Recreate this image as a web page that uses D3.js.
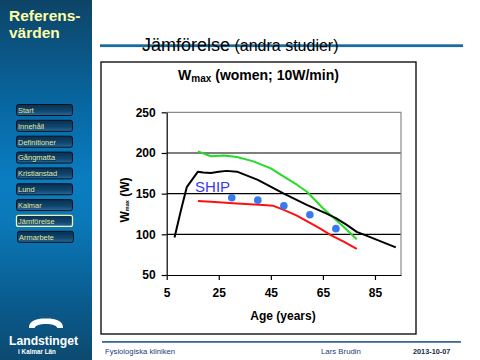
<!DOCTYPE html>
<html><head><meta charset="utf-8">
<script src="https://cdn.jsdelivr.net/npm/d3@7"></script>
<style>
html,body{margin:0;padding:0;background:#fff;}
svg{display:block;font-family:"Liberation Sans",Arial,sans-serif;}
</style></head>
<body>
<svg id="c" width="480" height="360"></svg>
<script>
// ---- data ----
const navItems = ["Start","Innehåll","Definitioner","Gångmatta","Kristianstad","Lund","Kalmar","Jämförelse","Armarbete"];
const blackAge = [8,10.5,12.7,17,19,22,25,28,32,40,50,59,66,70,74,78,80.5,93];
const blackW   = [96,130,158,177,176,175.5,177,178,177,167,150,136,126,120,112,103,100,84];
const greenAge = [17,22,27,32,38,45,50,55,59,65,72,78];
const greenW   = [202,196,197,195,190,181,171,161,152,132,112,94];
const redAge   = [17,22,32,42,46,50,55,59,64,68,73,78];
const redW     = [141,140,138,136,135,130,123,116,107,99,91,82];
const shipAge  = [30,40,50,60,70];
const shipW    = [145,142,135,124,107];
const xTicks   = [5,25,45,65,85];
const yTicks   = [50,100,150,200,250];

const svg = d3.select("#c");
const defs = svg.append("defs");
const g1 = defs.append("linearGradient").attr("id","side").attr("x1",0).attr("y1",0).attr("x2",0).attr("y2",1);
[[0,"#0d4467"],[0.3,"#0868a3"],[0.5,"#0a7dc1"],[0.62,"#0a78b8"],[0.85,"#0a5a8c"],[1,"#0c4a70"]].forEach(s=>g1.append("stop").attr("offset",s[0]).attr("stop-color",s[1]));
const g2 = defs.append("linearGradient").attr("id","btn").attr("x1",0).attr("y1",0).attr("x2",0).attr("y2",1);
[[0,"#0a2f4e"],[0.6,"#0f4770"],[1,"#2a6a98"]].forEach(s=>g2.append("stop").attr("offset",s[0]).attr("stop-color",s[1]));

// sidebar
svg.append("rect").attr("x",0).attr("y",0).attr("width",92).attr("height",360).attr("fill","url(#side)");
svg.append("text").attr("x",9).attr("y",21).attr("fill","#ffffa6").attr("font-weight","bold").attr("font-size",15.5).text("Referens-");
svg.append("text").attr("x",9).attr("y",38).attr("fill","#ffffa6").attr("font-weight","bold").attr("font-size",15.5).text("värden");

navItems.forEach((t,i)=>{
  const y = 104.5 + i*15.85;
  const x = i===8 ? 17.5 : 16.5;
  svg.append("rect").attr("x",x).attr("y",y).attr("width",56).attr("height",11).attr("rx",2)
    .attr("fill","url(#btn)").attr("stroke", i===7?"#f4f0a8":"#06121e").attr("stroke-width", i===7?1.3:1);
  svg.append("text").attr("x",x+1.5).attr("y",y+8.3).attr("font-size",7.5).attr("fill","#000").attr("opacity",0.6).text(t).attr("dx",0.5).attr("dy",0.5);
  svg.append("text").attr("x",x+1.5).attr("y",y+8.3).attr("font-size",7.5).attr("fill","#e6f2b8").text(t);
});

// logo
svg.append("path").attr("d","M29,328 C29,321 35,318.5 46,318.5 C57,318.5 63,321 63,328 L57.5,328 C56,325 52,324 46,324 C40,324 36,325 34.5,328 Z").attr("fill","#fff");
svg.append("text").attr("x",43.5).attr("y",345).attr("text-anchor","middle").attr("fill","#fff").attr("font-weight","bold").attr("font-size",12.2).text("Landstinget");
svg.append("text").attr("x",37).attr("y",354).attr("text-anchor","middle").attr("fill","#fff").attr("font-weight","bold").attr("font-size",6.3).text("i Kalmar Län");

// header
svg.append("rect").attr("x",100).attr("y",44.3).attr("width",363).attr("height",2.8).attr("fill","#1b6c9e");
const ht = svg.append("text").attr("x",142).attr("y",51).attr("fill","#000");
ht.append("tspan").attr("font-size",18).text("Jämförelse");
ht.append("tspan").attr("font-size",16).text(" (andra studier)");

// footer
svg.append("rect").attr("x",102).attr("y",341).attr("width",359).attr("height",1.8).attr("fill","#3a6a9c");
svg.append("text").attr("x",105).attr("y",353.5).attr("font-size",7.7).attr("fill","#1c3a80").text("Fysiologiska kliniken");
svg.append("text").attr("x",321).attr("y",353.5).attr("font-size",7.8).attr("fill","#1c3a80").text("Lars Brudin");
svg.append("text").attr("x",413).attr("y",353.5).attr("font-size",7.3).attr("font-weight","bold").attr("fill","#1a2a4a").text("2013-10-07");

// chart box
svg.append("rect").attr("x",101).attr("y",62).attr("width",315).attr("height",272).attr("fill","#fff").attr("stroke","#000").attr("stroke-width",1.3);

// title
const tt = svg.append("text").attr("x",258.5).attr("y",80).attr("text-anchor","middle").attr("font-weight","bold").attr("font-size",14);
tt.append("tspan").text("W");
tt.append("tspan").attr("font-size",10).attr("dy",2).text("max");
tt.append("tspan").attr("dy",-2).text(" (women; 10W/min)");

// scales
const x = d3.scaleLinear().domain([5,95]).range([166.7,401]);
const y = d3.scaleLinear().domain([50,250]).range([275,112.3]);

// grid
svg.append("g").selectAll("line").data(yTicks.filter(v=>v>50 && v<250)).join("line")
  .attr("x1",x(5)).attr("x2",x(95)).attr("y1",d=>y(d)).attr("y2",d=>y(d)).attr("stroke","#000").attr("stroke-width",1.2);
// plot border (top/right grey)
svg.append("path").attr("d",`M${x(5)},${y(250)}H${x(95)}V${y(50)}`).attr("fill","none").attr("stroke","#8a8a8a").attr("stroke-width",1.2);

// axes
const yAxis = svg.append("g").attr("transform",`translate(${x(5)},0)`)
  .call(d3.axisLeft(y).tickValues(yTicks).tickSize(5).tickSizeOuter(0).tickPadding(6));
const xAxis = svg.append("g").attr("transform",`translate(0,${y(50)})`)
  .call(d3.axisBottom(x).tickValues(xTicks).tickSize(5).tickSizeOuter(0).tickPadding(8));
[yAxis,xAxis].forEach(a=>{
  a.select(".domain").attr("stroke","#000").attr("stroke-width",1.2);
  a.selectAll(".tick line").attr("stroke","#000").attr("stroke-width",1.2);
  a.selectAll(".tick text").attr("font-family","Liberation Sans, Arial, sans-serif").attr("font-size",12).attr("font-weight","bold").attr("fill","#000");
});
xAxis.selectAll(".tick text").attr("dy","0.71em");

// axis titles
svg.append("text").attr("x",283).attr("y",320).attr("text-anchor","middle").attr("font-weight","bold").attr("font-size",12).text("Age (years)");
const yt = svg.append("text").attr("transform","translate(129,200) rotate(-90)").attr("text-anchor","middle").attr("font-weight","bold").attr("font-size",12);
yt.append("tspan").text("W");
yt.append("tspan").attr("font-size",5.5).text("max");
yt.append("tspan").text(" (W)");

// lines
const line = d3.line().x(d=>x(d[0])).y(d=>y(d[1]));
function drawLine(ages, vals, color){
  svg.append("path").datum(ages.map((a,i)=>[a,vals[i]])).attr("d",line)
    .attr("fill","none").attr("stroke",color).attr("stroke-width",2).attr("stroke-linejoin","round");
}
drawLine(greenAge, greenW, "#22dd22");
drawLine(blackAge, blackW, "#000");
drawLine(redAge, redW, "#ff1010");

svg.append("g").selectAll("circle").data(shipAge.map((a,i)=>[a,shipW[i]])).join("circle")
  .attr("cx",d=>x(d[0])).attr("cy",d=>y(d[1])).attr("r",3.8).attr("fill","#3a78ee");

svg.append("text").attr("x",x(15.9)).attr("y",y(152.4)).attr("font-size",15).attr("fill","#3a3af0").text("SHIP");
</script>
</body></html>
